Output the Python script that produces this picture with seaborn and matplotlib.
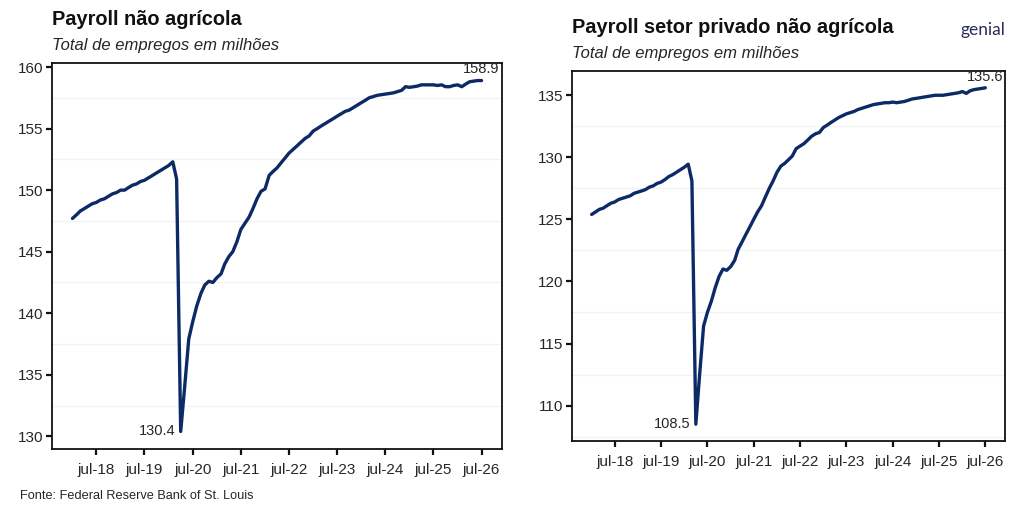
import pandas as pd
import numpy as np
import matplotlib
matplotlib.use('Agg')
import matplotlib.pyplot as plt
import seaborn as sns

# monthly data, jan-2018 .. jul-2026 (millions of jobs)
months = pd.date_range("2018-01-01", "2026-07-01", freq="MS")

total_nonfarm = [
    147.7, 148.0, 148.3, 148.5, 148.7, 148.9, 149.0, 149.2, 149.3, 149.5, 149.7, 149.8,
    150.0, 150.0, 150.2, 150.4, 150.5, 150.7, 150.8, 151.0, 151.2, 151.4, 151.6, 151.8,
    152.0, 152.3, 150.9, 130.4, 134.0, 137.9, 139.3, 140.6, 141.6, 142.3, 142.6, 142.5,
    142.9, 143.2, 144.0, 144.6, 145.0, 145.8, 146.8, 147.3, 147.8, 148.5, 149.3, 149.9,
    150.1, 151.2, 151.5, 151.8, 152.2, 152.6, 153.0, 153.3, 153.6, 153.9, 154.2, 154.4,
    154.8, 155.0, 155.2, 155.4, 155.6, 155.8, 156.0, 156.2, 156.4, 156.5, 156.7, 156.9,
    157.1, 157.3, 157.5, 157.6, 157.7, 157.75, 157.8, 157.85, 157.9, 158.0, 158.1, 158.4,
    158.35, 158.4, 158.45, 158.55, 158.55, 158.55, 158.55, 158.5, 158.55, 158.4, 158.4, 158.5,
    158.55, 158.4, 158.6, 158.8, 158.85, 158.9, 158.9,
]

private_nonfarm = [
    125.4, 125.6, 125.8, 125.9, 126.1, 126.3, 126.4, 126.6, 126.7, 126.8, 126.9, 127.1,
    127.2, 127.3, 127.4, 127.6, 127.7, 127.9, 128.0, 128.2, 128.45, 128.6, 128.8, 129.0,
    129.2, 129.45, 128.1, 108.5, 112.5, 116.4, 117.5, 118.4, 119.5, 120.4, 121.0, 120.9,
    121.2, 121.7, 122.6, 123.2, 123.8, 124.4, 125.0, 125.6, 126.1, 126.8, 127.5, 128.1,
    128.8, 129.3, 129.5, 129.8, 130.1, 130.7, 130.9, 131.1, 131.4, 131.7, 131.9, 132.0,
    132.4, 132.6, 132.8, 133.0, 133.2, 133.35, 133.5, 133.6, 133.7, 133.85, 133.95, 134.05,
    134.15, 134.25, 134.3, 134.35, 134.4, 134.4, 134.45, 134.4, 134.45, 134.5, 134.6, 134.7,
    134.75, 134.8, 134.85, 134.9, 134.95, 135.0, 135.0, 135.0, 135.05, 135.1, 135.15, 135.2,
    135.3, 135.15, 135.35, 135.45, 135.5, 135.55, 135.6,
]

tick_labels = ["jul-18", "jul-19", "jul-20", "jul-21", "jul-22",
               "jul-23", "jul-24", "jul-25", "jul-26"]
tick_dates = pd.to_datetime(["2018-07-01", "2019-07-01", "2020-07-01", "2021-07-01",
                             "2022-07-01", "2023-07-01", "2024-07-01", "2025-07-01",
                             "2026-07-01"])

left_ticks = [130, 135, 140, 145, 150, 155, 160]
right_ticks = [110, 115, 120, 125, 130, 135]

LINE = "#0b2a66"
TXT = "#262626"

sns.set_style("ticks")
plt.rcParams['font.family'] = ['Liberation Sans', 'DejaVu Sans']

fig = plt.figure(figsize=(10.24, 5.12), dpi=100)
ax1 = fig.add_axes([52 / 1024, 1 - 449 / 512, 450 / 1024, 386 / 512])
ax2 = fig.add_axes([572 / 1024, 1 - 441 / 512, 433 / 1024, 370 / 512])


def draw_panel(ax, values, yticks):
    df = pd.DataFrame({"data": months, "valor": values})
    sns.lineplot(data=df, x="data", y="valor", ax=ax, color=LINE, linewidth=2.4)

    # ggplot-like 5% expansion
    vmin, vmax = min(values), max(values)
    pad = 0.05 * (vmax - vmin)
    ax.set_ylim(vmin - pad, vmax + pad)
    span = months[-1] - months[0]
    ax.set_xlim(months[0] - span * 0.05, months[-1] + span * 0.05)

    ax.set_yticks(yticks)
    ax.set_yticklabels([str(t) for t in yticks])
    ax.set_xticks(tick_dates)
    ax.set_xticklabels(tick_labels)
    ax.set_xlabel("")
    ax.set_ylabel("")

    # faint minor grid at the midpoints
    for t in yticks:
        for g in (t - 2.5, t + 2.5):
            if vmin - pad < g < vmax + pad:
                ax.axhline(g, color="#f2f2f2", lw=0.8, zorder=0)

    for s in ax.spines.values():
        s.set_visible(True)
        s.set_color("#111111")
        s.set_linewidth(1.3)
    ax.tick_params(axis="both", direction="out", length=4, width=1.6,
                   color="#111111", labelsize=11, labelcolor=TXT, pad=2,
                   bottom=True, left=True, top=False, right=False)
    ax.tick_params(axis="x", pad=6)

    # labels: trough and last value
    i_min = int(np.argmin(values))
    ax.annotate(f"{values[i_min]:.1f}", (months[i_min], values[i_min]),
                xytext=(-4, 0), textcoords="offset points",
                ha="right", va="center", fontsize=10.5, color=TXT)
    ax.annotate(f"{values[-1]:.1f}", (months[-1], values[-1]),
                xytext=(0, 3), textcoords="offset points",
                ha="center", va="bottom", fontsize=10.5, color=TXT)


draw_panel(ax1, total_nonfarm, left_ticks)
draw_panel(ax2, private_nonfarm, right_ticks)

fig.text(52 / 1024, 1 - 25 / 512, "Payroll não agrícola", fontsize=14.4,
         fontweight="bold", color="#111111", ha="left", va="baseline")
fig.text(52 / 1024, 1 - 50 / 512, "Total de empregos em milhões", fontsize=12,
         style="italic", color=TXT, ha="left", va="baseline")

fig.text(572 / 1024, 1 - 33 / 512, "Payroll setor privado não agrícola", fontsize=14.4,
         fontweight="bold", color="#111111", ha="left", va="baseline")
fig.text(572 / 1024, 1 - 58 / 512, "Total de empregos em milhões", fontsize=12,
         style="italic", color=TXT, ha="left", va="baseline")

fig.text(1005 / 1024, 1 - 35 / 512, "genial", fontsize=12.5, color="#2a2c5e",
         ha="right", va="baseline", family=["Lato", "DejaVu Sans"])

fig.text(20 / 1024, 1 - 499 / 512, "Fonte: Federal Reserve Bank of St. Louis",
         fontsize=9.2, color=TXT, ha="left", va="baseline")

fig.savefig("out.png", dpi=100)
plt.close(fig)
